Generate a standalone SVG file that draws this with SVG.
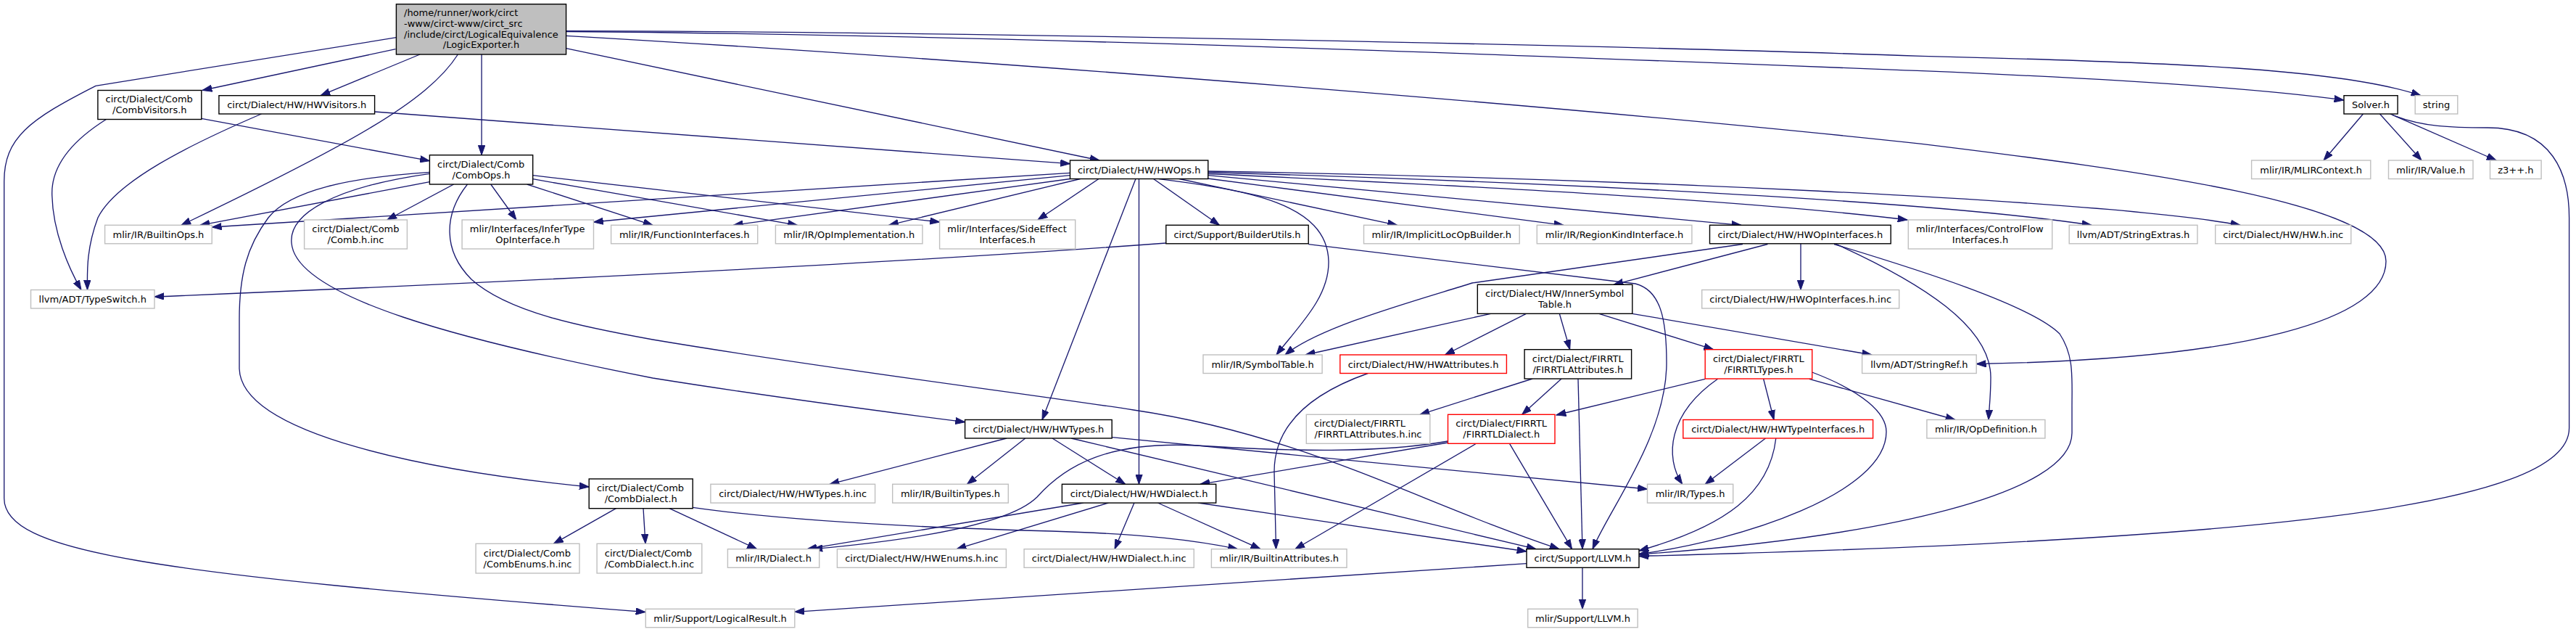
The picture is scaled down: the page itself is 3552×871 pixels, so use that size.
<svg xmlns="http://www.w3.org/2000/svg" width="3552" height="871" viewBox="0 0 3552 871">
<style>
rect.n{fill:#fff;stroke-width:1.4}
rect.k{stroke:#000}
rect.g{stroke:#bfbfbf}
rect.r{stroke:#ff0000}
text{font-family:"DejaVu Sans","Liberation Sans",sans-serif;font-size:13px;fill:#000}
text.m{text-anchor:middle}
text.s{text-anchor:start}
#edges path{fill:none;stroke:#191970;stroke-width:1.33;marker-end:url(#a)}
</style>
<defs>
<marker id="a" markerUnits="userSpaceOnUse" viewBox="0 -5 14 10" markerWidth="14" markerHeight="10" refX="13.3" refY="0" orient="auto"><path d="M0,-4.67L13.3,0L0,4.67Z" fill="#191970" stroke="#191970" stroke-width="1"/></marker>
</defs>
<rect x="0" y="0" width="3552" height="871" fill="#fff"/>
<g id="edges">
<path d="M545.5,67.7L279,124.5"/>
<path d="M579,75L442,131.7"/>
<path d="M664.1,75L664.1,213.7"/>
<path d="M631.4,75C590,140 480,200 250,310.3"/>
<path d="M546.4,51.7L132,118.3C40,165 5.7,190 5.7,250L5.7,686.7C5.7,760 200,790 890,843.5"/>
<path d="M780.6,66.7L1516,221"/>
<path d="M780.6,42.7C1300,43 2200,62 2650,77.3C3000,86 3230,95 3338,131.7"/>
<path d="M780.6,43.5C1400,48 2200,80 2650,97.7C2900,108 3100,120 3232,138"/>
<path d="M780.6,49.3C1400,85 2200,150 2650,198.3C2950,235 3290,280 3290,360C3290,440 3100,495 2725.2,501.5"/>
<path d="M146.4,164.5C90,200 70,235 71.8,270C73,320 95,370 112,399.5"/>
<path d="M277.8,163.3L592.4,221.7"/>
<path d="M360.5,157C260,200 160,250 135,300C120,340 120,370 120.5,399.5"/>
<path d="M516.6,154L1475.5,225.7"/>
<path d="M592.4,250.7L276,310.3"/>
<path d="M625.7,254L533.8,303"/>
<path d="M676.8,254L712,303"/>
<path d="M726.7,254L900,310.3"/>
<path d="M734.7,246.7L1099.4,310.3"/>
<path d="M734.7,241.7L1295.6,306"/>
<path d="M592.4,237.3C480,245 400,262 370,300C340,340 330,380 330,440L330,506.7C330,600 600,650 812.2,671"/>
<path d="M592.4,239.3C460,258 398,295 402,335C408,410 640,470 900,521C1050,545 1200,565 1330.6,581.7"/>
<path d="M644.5,254C612,295 610,345 650,385C700,430 800,450 900,468C1150,510 1400,540 1563,565C1800,600 1950,690 2150,756.7"/>
<path d="M1475.5,238.3L292.2,313"/>
<path d="M1475.5,241.7L818.5,306"/>
<path d="M1475.5,246.5L1011.3,310.3"/>
<path d="M1489.6,246.5L1225.5,310.3"/>
<path d="M1515,246.5L1431,303"/>
<path d="M1566,246.5L1437,578.5"/>
<path d="M1570.5,246.5L1570.5,667.3"/>
<path d="M1590.5,246.5L1681.4,310.3"/>
<path d="M1598,246.7C1720,262 1830,280 1832,360C1833,410 1790,450 1760,489"/>
<path d="M1626,246.5L1926.6,310.3"/>
<path d="M1657.7,245L2156,310.3"/>
<path d="M1665.8,241.7L2401,310.3"/>
<path d="M1665.8,239.5C2000,255 2400,275 2630,303"/>
<path d="M1665.8,237.5C2100,250 2650,275 2884,310.3"/>
<path d="M1665.8,236C2200,245 2900,275 3089,310.3"/>
<path d="M1607.8,335C1300,358 800,385 213,409"/>
<path d="M1804.2,336.7L2255,391C2290,400 2298,440 2298,500C2298,600 2220,700 2196,756.7"/>
<path d="M2403,336.5L2030,390C1950,415 1820,450 1772,489"/>
<path d="M2437.4,336.5L2225,392.3"/>
<path d="M2483,336L2483,399.5"/>
<path d="M2529,336.5C2640,370 2800,420 2840,460C2860,490 2857,520 2857,560L2857,596.7C2857,680 2600,740 2260,764"/>
<path d="M2532,336.5C2650,390 2745,450 2745,520C2745,545 2743,560 2742,578.5"/>
<path d="M2055.6,432.3L1800.2,489"/>
<path d="M2104.4,432.3L1992.5,489"/>
<path d="M2150.3,432.3L2164.7,481.7"/>
<path d="M2204.9,432.3L2362.7,481.7"/>
<path d="M2250.8,432.3L2580.8,489"/>
<path d="M1886.3,514.5C1800,545 1757,590 1757,650L1759.5,756.7"/>
<path d="M2113,522L1958,571.3"/>
<path d="M2153,522L2098.7,571.3"/>
<path d="M2176,522L2182,756.7"/>
<path d="M2351.2,522.3L2146,572"/>
<path d="M2368.5,522.3C2300,570 2295,630 2319.7,667.3"/>
<path d="M2431.6,522L2446,578.5"/>
<path d="M2498.7,513C2570,540 2601,570 2601,595C2601,680 2400,745 2260,763.5"/>
<path d="M2494.8,522.3L2696,578.5"/>
<path d="M1996.5,610L1655,667.3"/>
<path d="M1996.5,608C1900,625 1780,622 1650,614C1530,608 1470,640 1430,685C1390,725 1250,745 1121,756.7"/>
<path d="M2035.5,611.3L1785.8,756.7"/>
<path d="M2081.5,611.3L2167.6,756.7"/>
<path d="M2434.5,604L2351.2,667.3"/>
<path d="M2448.8,604C2440,680 2380,725 2260,759"/>
<path d="M1388,604L1144,667.3"/>
<path d="M1413.8,604L1333.5,667.3"/>
<path d="M1451,604L1551.6,667.3"/>
<path d="M1477,604L2118,756.7"/>
<path d="M1533.2,602.7L2271.5,674"/>
<path d="M1494,693L1113,756.7"/>
<path d="M1528.6,693L1319,756.7"/>
<path d="M1564,693L1537,756.7"/>
<path d="M1596.4,693L1738,756.7"/>
<path d="M1652,693L2105,760"/>
<path d="M849.5,700.7L763.4,749.3"/>
<path d="M887,700.7L890,749.3"/>
<path d="M923,700.7L1043.6,756.7"/>
<path d="M955.2,699.3C1100,720 1300,728 1450,732C1580,736 1650,745 1706.6,756.7"/>
<path d="M2182,782.3L2182,839.3"/>
<path d="M2105,776.7L1095.8,843.3"/>
<path d="M3258.5,157L3204,221"/>
<path d="M3281.5,157L3339,221"/>
<path d="M3295.8,157L3442,221"/>
<path d="M3298.7,158.5C3340,175 3380,176 3430,176C3520,176 3542.6,240 3542.6,300L3542.6,590C3542.6,700 3100,745 2260,766.5"/>
</g>
<g id="n-main"><rect x="546.4" y="5.7" width="234.2" height="69.3" style="fill:#bfbfbf;stroke:#000;stroke-width:1.4"/><text class="s" x="557" y="22.1">/home/runner/work/circt</text><text class="s" x="557" y="36.9">-www/circt-www/circt_src</text><text class="s" x="557" y="51.6">/include/circt/LogicalEquivalence</text><text class="m" x="663.5" y="66.4">/LogicExporter.h</text></g>
<g id="n-combvisitors"><rect class="n k" x="134.9" y="124.5" width="142.9" height="40"/><text class="s" x="145.6" y="141.3">circt/Dialect/Comb</text><text class="m" x="206.35" y="156.3">/CombVisitors.h</text></g>
<g id="n-hwvisitors"><rect class="n k" x="301.9" y="131.7" width="214.7" height="25.3"/><text class="m" x="409.25" y="149.1">circt/Dialect/HW/HWVisitors.h</text></g>
<g id="n-solver"><rect class="n k" x="3232" y="131.7" width="74.1" height="25.3"/><text class="m" x="3269.05" y="149.1">Solver.h</text></g>
<g id="n-string"><rect class="n g" x="3330.2" y="131.7" width="58.6" height="25.3"/><text class="m" x="3359.5" y="149.1">string</text></g>
<g id="n-combops"><rect class="n k" x="592.4" y="213.7" width="142.3" height="40.3"/><text class="s" x="603.1" y="230.6">circt/Dialect/Comb</text><text class="m" x="663.55" y="245.6">/CombOps.h</text></g>
<g id="n-hwops"><rect class="n k" x="1475.5" y="221" width="190.3" height="25.5"/><text class="m" x="1570.65" y="238.5">circt/Dialect/HW/HWOps.h</text></g>
<g id="n-mlircontext"><rect class="n g" x="3104.6" y="221" width="164.2" height="25.5"/><text class="m" x="3186.7" y="238.5">mlir/IR/MLIRContext.h</text></g>
<g id="n-value"><rect class="n g" x="3293.5" y="221" width="116.5" height="25.5"/><text class="m" x="3351.75" y="238.5">mlir/IR/Value.h</text></g>
<g id="n-z3"><rect class="n g" x="3433.5" y="221" width="70.6" height="25.5"/><text class="m" x="3468.8" y="238.5">z3++.h</text></g>
<g id="n-builtinops"><rect class="n g" x="144.6" y="310.3" width="147.6" height="25.5"/><text class="m" x="218.4" y="327.8">mlir/IR/BuiltinOps.h</text></g>
<g id="n-combhinc"><rect class="n g" x="419.6" y="303" width="141.8" height="40"/><text class="s" x="430.3" y="319.8">circt/Dialect/Comb</text><text class="m" x="490.5" y="334.8">/Comb.h.inc</text></g>
<g id="n-infertype"><rect class="n g" x="637.1" y="303" width="181.4" height="40"/><text class="s" x="647.8" y="319.8">mlir/Interfaces/InferType</text><text class="m" x="727.8" y="334.8">OpInterface.h</text></g>
<g id="n-funcif"><rect class="n g" x="842.6" y="310.3" width="202.1" height="25.5"/><text class="m" x="943.65" y="327.8">mlir/IR/FunctionInterfaces.h</text></g>
<g id="n-opimpl"><rect class="n g" x="1069.4" y="310.3" width="202.6" height="25.5"/><text class="m" x="1170.7" y="327.8">mlir/IR/OpImplementation.h</text></g>
<g id="n-sideeffect"><rect class="n g" x="1295.6" y="303" width="187.1" height="40"/><text class="s" x="1306.3" y="319.8">mlir/Interfaces/SideEffect</text><text class="m" x="1389.15" y="334.8">Interfaces.h</text></g>
<g id="n-builderutils"><rect class="n k" x="1607.8" y="310.3" width="196.4" height="25.5"/><text class="m" x="1706" y="327.8">circt/Support/BuilderUtils.h</text></g>
<g id="n-implicitloc"><rect class="n g" x="1880.5" y="310.3" width="214.7" height="25.5"/><text class="m" x="1987.85" y="327.8">mlir/IR/ImplicitLocOpBuilder.h</text></g>
<g id="n-regionkind"><rect class="n g" x="2119.3" y="310.3" width="213.6" height="25.5"/><text class="m" x="2226.1" y="327.8">mlir/IR/RegionKindInterface.h</text></g>
<g id="n-hwopif"><rect class="n k" x="2357.5" y="310.3" width="249.7" height="25.5"/><text class="m" x="2482.35" y="327.8">circt/Dialect/HW/HWOpInterfaces.h</text></g>
<g id="n-controlflow"><rect class="n g" x="2631.3" y="303" width="198.4" height="40"/><text class="s" x="2642" y="319.8">mlir/Interfaces/ControlFlow</text><text class="m" x="2730.5" y="334.8">Interfaces.h</text></g>
<g id="n-stringextras"><rect class="n g" x="2853.2" y="310.3" width="176.8" height="25.5"/><text class="m" x="2941.6" y="327.8">llvm/ADT/StringExtras.h</text></g>
<g id="n-hwhinc"><rect class="n g" x="3054.7" y="310.3" width="187.1" height="25.5"/><text class="m" x="3148.25" y="327.8">circt/Dialect/HW/HW.h.inc</text></g>
<g id="n-typeswitch"><rect class="n g" x="42.5" y="399.5" width="170.5" height="25.5"/><text class="m" x="127.75" y="417">llvm/ADT/TypeSwitch.h</text></g>
<g id="n-innersym"><rect class="n k" x="2037.3" y="392.3" width="213.5" height="40"/><text class="s" x="2048" y="409.1">circt/Dialect/HW/InnerSymbol</text><text class="m" x="2144.05" y="424.1">Table.h</text></g>
<g id="n-hwopifinc"><rect class="n g" x="2346.7" y="399.5" width="272" height="25.5"/><text class="m" x="2482.7" y="417">circt/Dialect/HW/HWOpInterfaces.h.inc</text></g>
<g id="n-symboltable"><rect class="n g" x="1659" y="489" width="164.1" height="25.5"/><text class="m" x="1741.05" y="506.5">mlir/IR/SymbolTable.h</text></g>
<g id="n-hwattr"><rect class="n r" x="1847.8" y="489" width="229.6" height="25.5"/><text class="m" x="1962.6" y="506.5">circt/Dialect/HW/HWAttributes.h</text></g>
<g id="n-firrtlattr"><rect class="n k" x="2102.1" y="481.7" width="147.5" height="40.3"/><text class="s" x="2112.8" y="498.6">circt/Dialect/FIRRTL</text><text class="m" x="2175.85" y="513.6">/FIRRTLAttributes.h</text></g>
<g id="n-firrtltypes"><rect class="n r" x="2351.2" y="481.7" width="147.5" height="40.3"/><text class="s" x="2361.9" y="498.6">circt/Dialect/FIRRTL</text><text class="m" x="2424.95" y="513.6">/FIRRTLTypes.h</text></g>
<g id="n-stringref"><rect class="n g" x="2567.6" y="489" width="157.6" height="25.5"/><text class="m" x="2646.4" y="506.5">llvm/ADT/StringRef.h</text></g>
<g id="n-firrtlattrinc"><rect class="n g" x="1801.3" y="571.3" width="170.5" height="40"/><text class="s" x="1812" y="588.1">circt/Dialect/FIRRTL</text><text class="m" x="1886.55" y="603.1">/FIRRTLAttributes.h.inc</text></g>
<g id="n-firrtldialect"><rect class="n r" x="1996.5" y="571.3" width="147.5" height="40"/><text class="s" x="2007.2" y="588.1">circt/Dialect/FIRRTL</text><text class="m" x="2070.25" y="603.1">/FIRRTLDialect.h</text></g>
<g id="n-hwtypes"><rect class="n k" x="1330.6" y="578.5" width="202.6" height="25.5"/><text class="m" x="1431.9" y="596">circt/Dialect/HW/HWTypes.h</text></g>
<g id="n-hwtypeif"><rect class="n r" x="2320.8" y="578.5" width="261.8" height="25.5"/><text class="m" x="2451.7" y="596">circt/Dialect/HW/HWTypeInterfaces.h</text></g>
<g id="n-opdef"><rect class="n g" x="2656.9" y="578.5" width="163" height="25.5"/><text class="m" x="2738.4" y="596">mlir/IR/OpDefinition.h</text></g>
<g id="n-combdialect"><rect class="n k" x="812.2" y="660" width="143" height="40.7"/><text class="s" x="822.9" y="677.2">circt/Dialect/Comb</text><text class="m" x="883.7" y="692.2">/CombDialect.h</text></g>
<g id="n-hwtypesinc"><rect class="n g" x="979.9" y="667.3" width="226.7" height="25.8"/><text class="m" x="1093.25" y="685">circt/Dialect/HW/HWTypes.h.inc</text></g>
<g id="n-builtintypes"><rect class="n g" x="1230.7" y="667.3" width="159.6" height="25.8"/><text class="m" x="1310.5" y="685">mlir/IR/BuiltinTypes.h</text></g>
<g id="n-hwdialect"><rect class="n k" x="1464.4" y="667.3" width="212.3" height="25.8"/><text class="m" x="1570.55" y="685">circt/Dialect/HW/HWDialect.h</text></g>
<g id="n-types"><rect class="n g" x="2271.5" y="667.3" width="118.2" height="25.8"/><text class="m" x="2330.6" y="685">mlir/IR/Types.h</text></g>
<g id="n-combenums"><rect class="n g" x="656.1" y="749.3" width="142.9" height="40.7"/><text class="s" x="666.8" y="766.5">circt/Dialect/Comb</text><text class="m" x="727.55" y="781.5">/CombEnums.h.inc</text></g>
<g id="n-combdialectinc"><rect class="n g" x="823.1" y="749.3" width="144.7" height="40.7"/><text class="s" x="833.8" y="766.5">circt/Dialect/Comb</text><text class="m" x="895.45" y="781.5">/CombDialect.h.inc</text></g>
<g id="n-dialect"><rect class="n g" x="1003.4" y="756.7" width="126.3" height="25.6"/><text class="m" x="1066.55" y="774.3">mlir/IR/Dialect.h</text></g>
<g id="n-hwenums"><rect class="n g" x="1154.4" y="756.7" width="233" height="25.6"/><text class="m" x="1270.9" y="774.3">circt/Dialect/HW/HWEnums.h.inc</text></g>
<g id="n-hwdialectinc"><rect class="n g" x="1412.1" y="756.7" width="234.2" height="25.6"/><text class="m" x="1529.2" y="774.3">circt/Dialect/HW/HWDialect.h.inc</text></g>
<g id="n-builtinattr"><rect class="n g" x="1670.4" y="756.7" width="186.6" height="25.6"/><text class="m" x="1763.7" y="774.3">mlir/IR/BuiltinAttributes.h</text></g>
<g id="n-circtllvm"><rect class="n k" x="2105" y="756.7" width="155" height="25.6"/><text class="m" x="2182.5" y="774.3">circt/Support/LLVM.h</text></g>
<g id="n-logicalresult"><rect class="n g" x="890.3" y="839.3" width="205.5" height="25.4"/><text class="m" x="993.05" y="856.8">mlir/Support/LogicalResult.h</text></g>
<g id="n-mlirllvm"><rect class="n g" x="2106.7" y="839.3" width="151.5" height="25.4"/><text class="m" x="2182.45" y="856.8">mlir/Support/LLVM.h</text></g>
</svg>
